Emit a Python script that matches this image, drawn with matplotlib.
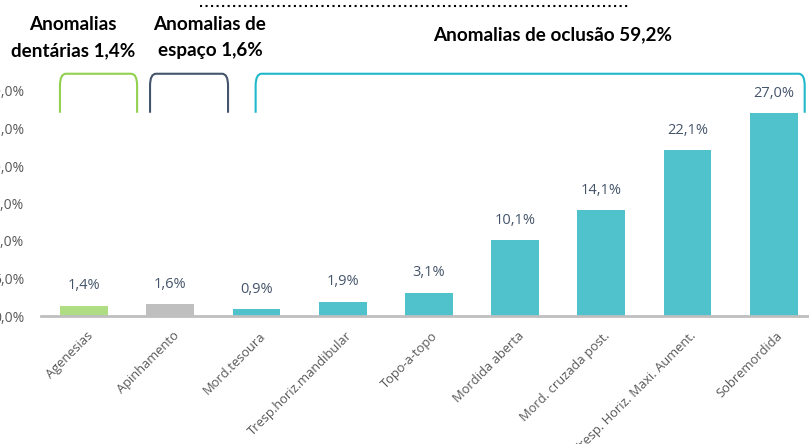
import matplotlib.pyplot as plt
import matplotlib.transforms as mtransforms
from matplotlib.path import Path
from matplotlib.patches import PathPatch
from matplotlib.lines import Line2D

categories = ["Agenesias", "Apinhamento", "Mord.tesoura", "Tresp.horiz.mandibular",
              "Topo-a-topo", "Mordida aberta", "Mord. cruzada post.",
              "Tresp. Horiz. Maxi. Aument.", "Sobremordida"]
values = [1.4, 1.6, 0.9, 1.9, 3.1, 10.1, 14.1, 22.1, 27.0]
bar_colors = ["#AEDD84", "#BFBFBF"] + ["#50C2CB"] * 7

yticks = [0, 5, 10, 15, 20, 25, 30]

# groups: (label, first bar, last bar, bracket colour)
groups = [
    ("Anomalias\ndentárias 1,4%", 0, 0, "#92D050"),
    ("Anomalias de\nespaço 1,6%", 1, 1, "#44546A"),
    ("Anomalias de oclusão 59,2%", 2, 8, "#1FB9C9"),
]


def fmt(v):
    return f"{v:.1f}".replace(".", ",") + "%"


fig = plt.figure(figsize=(8.09, 4.44), dpi=100)
ax = fig.add_axes([41 / 809, 128 / 444, 768 / 809, 225 / 444])

x = list(range(len(categories)))
bars = ax.bar(x, values, width=0.556, color=bar_colors, zorder=2)

for xi, v in zip(x, values):
    ax.annotate(fmt(v), (xi, v), xytext=(0, 9), textcoords="offset points",
                ha="center", va="bottom", fontsize=10.5, color="#44546A",
                family="Open Sans")

ax.set_xlim(-0.5, 8.41)
ax.set_ylim(0, 30)
ax.set_yticks(yticks)
ax.set_yticklabels([fmt(t) for t in yticks], fontsize=10, color="#595959",
                   family="Open Sans")
ax.set_xticks(x)
ax.set_xticklabels(categories, rotation=45, ha="right", va="center",
                   rotation_mode="anchor", fontsize=9.3, color="#595959",
                   family="Open Sans")
ax.tick_params(axis="y", length=0, pad=12)
ax.tick_params(axis="x", length=0, pad=13)
shift = mtransforms.ScaledTranslation(5 / 72, 0, fig.dpi_scale_trans)
for lbl in ax.get_xticklabels():
    lbl.set_transform(lbl.get_transform() + shift)

for s in ["top", "right", "left"]:
    ax.spines[s].set_visible(False)
ax.spines["bottom"].set_color("#BFBFBF")
ax.spines["bottom"].set_linewidth(2)

# brackets over the groups
pad_l = [0.28, 0.235, 0.01]
pad_r = [0.615, 0.67, 0.36]
for (label, i0, i1, col), pl, pr in zip(groups, pad_l, pad_r):
    x0 = i0 - pl
    x1 = i1 + pr
    yb, yt = 27.1, 32.3
    dx, dy = 0.07, 1.6
    verts = [(x0, yb), (x0, yt - dy), (x0, yt), (x0 + dx, yt),
             (x1 - dx, yt), (x1, yt), (x1, yt - dy), (x1, yb)]
    codes = [Path.MOVETO, Path.LINETO, Path.CURVE3, Path.CURVE3,
             Path.LINETO, Path.CURVE3, Path.CURVE3, Path.LINETO]
    ax.add_patch(PathPatch(Path(verts, codes), fill=False, edgecolor=col,
                           lw=1.5, clip_on=False))

ax.text(-0.13, 37.1, groups[0][0], ha="center", va="center", fontsize=13.6,
        fontweight="bold", family="Lato", linespacing=1.62, clip_on=False)
ax.text(1.46, 37.1, groups[1][0], ha="center", va="center", fontsize=13.6,
        fontweight="bold", family="Lato", linespacing=1.62, clip_on=False)
ax.text(5.44, 37.5, groups[2][0], ha="center", va="center", fontsize=13.6,
        fontweight="bold", family="Lato", clip_on=False)

# dotted rule left over from the cut-off title
fig.add_artist(Line2D([200 / 809, 630 / 809], [1 - 6 / 444, 1 - 6 / 444],
                      transform=fig.transFigure, color="black", ls=":", lw=1.5))

fig.savefig("out.png", dpi=100)
